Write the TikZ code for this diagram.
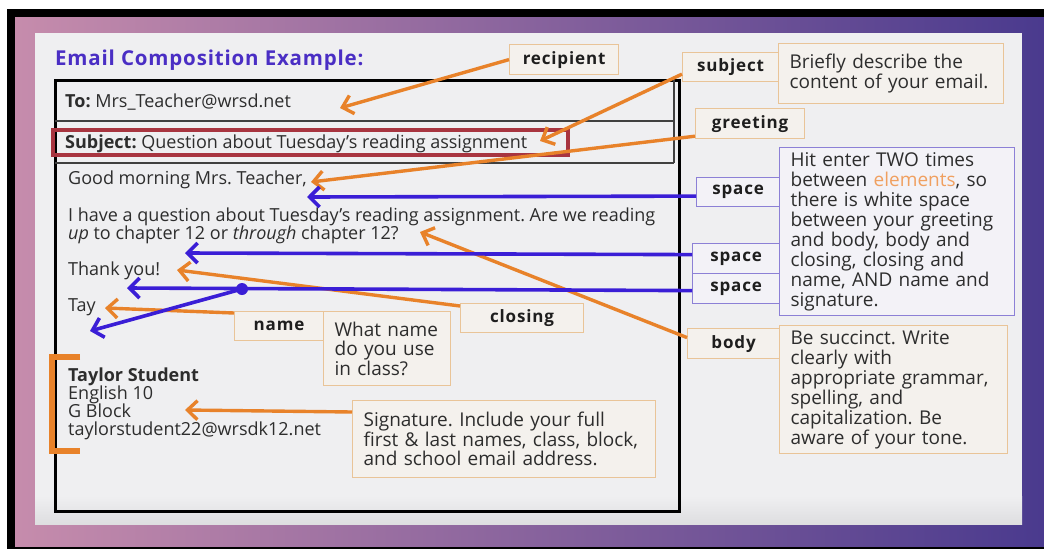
\documentclass[tikz,border=0pt]{standalone}
\usepackage{fontspec}
\setmainfont{Open Sans}
\newfontfamily\labelfont[LetterSpace=5]{Open Sans}
\newfontfamily\headfont[LetterSpace=4]{Open Sans}
\usetikzlibrary{arrows.meta,calc}

\definecolor{frameL}{RGB}{198,140,172}
\definecolor{frameR}{RGB}{74,58,142}
\definecolor{panel}{RGB}{239,239,241}
\definecolor{panelshade}{RGB}{222,222,224}
\definecolor{titleblue}{RGB}{74,46,196}
\definecolor{mailtxt}{RGB}{45,45,45}
\definecolor{labeltxt}{RGB}{30,30,30}
\definecolor{hilite}{RGB}{168,53,64}
\definecolor{oline}{RGB}{232,130,42}
\definecolor{bline}{RGB}{58,30,214}
\definecolor{oborder}{RGB}{233,196,152}
\definecolor{bborder}{RGB}{140,128,214}
\definecolor{ofill}{RGB}{244,241,237}
\definecolor{bfill}{RGB}{243,242,247}
\definecolor{softorange}{RGB}{240,160,96}

\begin{document}
\frenchspacing
\begin{tikzpicture}[x=1pt,y=-1pt,
  mail/.style={anchor=base west, inner sep=0pt, text=mailtxt, font=\fontsize{18}{18}\selectfont},
  tagbox/.style={fill=ofill, line width=1.2pt, inner sep=0pt, anchor=north west,
    text=labeltxt, font=\labelfont\bfseries\fontsize{17}{18}\selectfont},
  tagO/.style={tagbox, draw=oborder},
  tagB/.style={tagbox, draw=bborder, fill=bfill},
  notebox/.style={fill=ofill, line width=1.2pt, inner xsep=11pt, inner ysep=0pt,
    anchor=north west, align=left, text=mailtxt},
  noteO/.style={notebox, draw=oborder},
  noteB/.style={notebox, draw=bborder, fill=bfill},
  oarrow/.style={draw=oline, line width=3.4pt, -{Straight Barb[length=10pt,width=19pt]}},
  barrow/.style={draw=bline, line width=3.6pt, -{Straight Barb[length=10pt,width=20pt]}},
]
\useasboundingbox (0,0) rectangle (1044,549);

% frame and slide background
\fill[white] (0,0) rectangle (1044,549);
\fill[black] (7,9) rectangle (1044,549);
\shade[left color=frameL, right color=frameR] (15,17) rectangle (1044,546);
\fill[panel] (35,33) rectangle (1022,524);
\shade[top color=panel, bottom color=panelshade] (35,496) rectangle (1022,524);

% title
\node[anchor=base west, inner sep=0pt, text=titleblue,
  font=\headfont\bfseries\fontsize{20.5}{22}\selectfont] (title) at (55,65) {Email Composition Example:};

% the email form
\draw[black, line width=3pt] (55,80) rectangle (679,511);
\draw[black!75, line width=1.3pt] (55,121) -- (674,121) (55,163) -- (674,163) (674,80) -- (674,163);
\draw[hilite, line width=3.5pt] (53,130) rectangle (568,155);

\node[mail] (to) at (65,107) {\textbf{To:} Mrs\_Teacher@wrsd.net};
\node[mail] (subjline) at (65,148) {\textbf{Subject:} Question about Tuesday’s reading assignment};
\node[mail] (greettxt) at (68,184) {Good morning Mrs. Teacher,};
\node[mail] (body1) at (68,221) {I have a question about Tuesday’s reading assignment. Are we reading};
\node[mail] (body2) at (68,239) {\textit{up} to chapter 12 or \textit{through} chapter 12?};
\node[mail] (thanks) at (68,275) {Thank you!};
\node[mail] (tay) at (68,311) {Tay};
\node[mail] (sig1) at (68,381) {\textbf{Taylor Student}};
\node[mail] (sig2) at (68,399) {English 10};
\node[mail] (sig3) at (68,417) {G Block};
\node[mail] (sig4) at (68,435) {taylorstudent22@wrsdk12.net};

% bracket round the signature block
\draw[oline, line width=6pt] (80,357) -- (52,357) -- (52,451) -- (80,451);

% labels and notes
\node[tagO, minimum width=109pt, minimum height=30pt] (recip) at (509,44) {recipient};
\node[tagO, minimum width=96pt, minimum height=29pt] (subj) at (682,52) {subject};
\node[noteO, text width=203pt, minimum height=60pt,
  font=\fontsize{19}{19}\selectfont] (subjnote) at (778,43)
  {Briefly describe the\\content of your email.};
\node[tagO, minimum width=109pt, minimum height=30pt] (greet) at (695,108) {greeting};

\node[noteB, text width=213pt, minimum height=168pt,
  font=\fontsize{19}{20}\selectfont] (spnote) at (779,147)
  {Hit enter TWO times\\between \textcolor{softorange}{elements}, so\\there is white space\\between your greeting\\and body, body and\\closing, closing and\\name, AND name and\\signature.};
\node[tagB, minimum width=83pt, minimum height=29pt] (sp1) at (696,177) {space};
\node[tagB, minimum width=87pt, minimum height=30pt] (sp2) at (692,243) {space};
\node[tagB, minimum width=87pt, minimum height=30pt] (sp3) at (692,273) {space};

\node[tagO, minimum width=123pt, minimum height=29pt] (closing) at (460,303) {closing};
\node[tagO, minimum width=89pt, minimum height=29pt] (name) at (234,311) {name};
\node[noteO, text width=105pt, minimum height=74pt,
  font=\fontsize{19}{19.5}\selectfont] (namenote) at (323,311)
  {What name\\do you use\\in class?};

\node[tagO, minimum width=92pt, minimum height=30pt] (body) at (687,328) {body};
\node[noteO, text width=206pt, minimum height=128pt,
  font=\fontsize{19}{20}\selectfont] (bodynote) at (779,325)
  {Be succinct. Write\\clearly with\\appropriate grammar,\\spelling, and\\capitalization. Be\\aware of your tone.};

\node[noteO, text width=281pt, minimum height=77pt,
  font=\fontsize{19}{19}\selectfont] (signote) at (352,400)
  {Signature. Include your full\\first \& last names, class, block,\\and school email address.};

% arrow end points
\coordinate (tipTo) at (340,108);
\coordinate (tipSubj) at (540,141);
\coordinate (tipGreet) at (311,182);
\coordinate (tipBody) at (420,232);
\coordinate (tipThanks) at (177,270);
\coordinate (tipTay) at (105,308);
\coordinate (tipSig) at (185,410);
\coordinate (tipSp1) at (307,197);
\coordinate (tipSp2) at (185,253);
\coordinate (tipSp3) at (127,288);
\coordinate (fork) at (242,289);
\coordinate (tipFork) at (90,331);

% orange connectors
\draw[oarrow] (recip.west) -- (tipTo);
\draw[oarrow] ($(subj.west)+(0,7)$) -- (tipSubj);
\draw[oarrow] ($(greet.south west)+(0,-3)$) -- (tipGreet);
\draw[oarrow] ($(body.west)+(0,-6)$) -- (tipBody);
\draw[oarrow] ($(closing.north west)+(0,3)$) -- (tipThanks);
\draw[oarrow] ($(name.north west)+(0,2)$) -- (tipTay);
\draw[oarrow] ($(signote.north west)+(0,12)$) -- (tipSig);

% blue connectors
\draw[barrow] ($(sp1.west)+(0,4)$) -- (tipSp1);
\draw[barrow] ($(sp2.west)+(0,-4)$) -- (tipSp2);
\draw[barrow] ($(sp3.west)+(0,2)$) -- (tipSp3);
\fill[bline] (fork) circle (6pt);
\draw[barrow] (fork) -- (tipFork);
\end{tikzpicture}
\end{document}
